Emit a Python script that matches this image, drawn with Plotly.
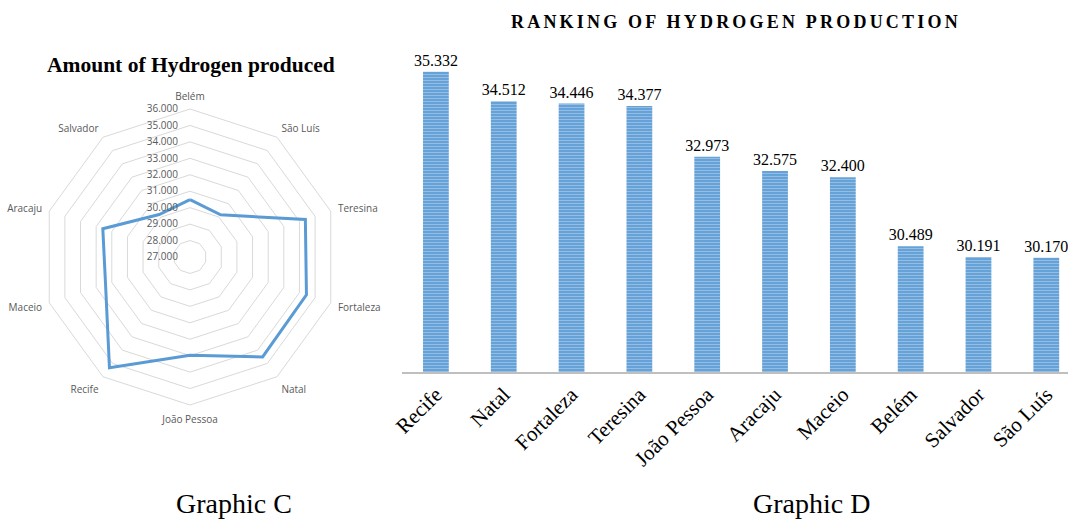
import plotly.graph_objects as go

# Radar data (order around the chart, clockwise from top)
radar_cities = ["Belém", "São Luís", "Teresina", "Fortaleza", "Natal",
                "João Pessoa", "Recife", "Maceio", "Aracaju", "Salvador"]
radar_values = [30.489, 30.170, 34.377, 34.446, 34.512,
                32.973, 35.332, 32.400, 32.575, 30.191]
radial_ticks = [27, 28, 29, 30, 31, 32, 33, 34, 35, 36]

# Ranking bar data
rank_cities = ["Recife", "Natal", "Fortaleza", "Teresina", "João Pessoa",
               "Aracaju", "Maceio", "Belém", "Salvador", "São Luís"]
rank_values = [35.332, 34.512, 34.446, 34.377, 32.973,
               32.575, 32.400, 30.489, 30.191, 30.170]

W, H = 1068, 520
fig = go.Figure()

fig.add_trace(go.Scatterpolar(
    r=radar_values + radar_values[:1],
    theta=radar_cities + radar_cities[:1],
    mode="lines",
    line=dict(color="#5b9bd5", width=3),
    showlegend=False,
))

fig.add_trace(go.Bar(
    x=rank_cities, y=rank_values,
    text=[f"{v:.3f}" for v in rank_values],
    textposition="outside",
    constraintext="none",
    textfont=dict(family="Liberation Serif", size=16, color="#000000"),
    cliponaxis=False,
    width=0.38,
    marker=dict(color="#5b9bd5",
                line=dict(width=0),
                pattern=dict(shape="-", fgcolor="#cfe0f3", size=3, solidity=0.45)),
    xaxis="x", yaxis="y",
    showlegend=False,
))

cx, cy, R = 190, 257, 148
fig.update_layout(
    width=W, height=H,
    margin=dict(l=0, r=0, t=0, b=0, autoexpand=False),
    paper_bgcolor="white", plot_bgcolor="white",
    polar=dict(
        domain=dict(x=[(cx - R) / W, (cx + R) / W], y=[1 - (cy + R) / H, 1 - (cy - R) / H]),
        bgcolor="white",
        gridshape="linear",
        radialaxis=dict(
            range=[27, 36], tickvals=radial_ticks,
            ticktext=[f"{v:.3f}" for v in radial_ticks],
            angle=90, tickangle=90, side="counterclockwise",
            showline=False, ticks="outside", ticklen=8, tickcolor="rgba(0,0,0,0)",
            gridcolor="#d9d9d9", gridwidth=1,
            tickfont=dict(family="Open Sans", size=10, color="#595959"),
        ),
        angularaxis=dict(
            direction="clockwise", rotation=90,
            showgrid=False, showline=True, linecolor="#d9d9d9", linewidth=1,
            ticks="outside", ticklen=5, tickcolor="rgba(0,0,0,0)",
            tickfont=dict(family="Open Sans", size=10, color="#595959"),
        ),
    ),
    xaxis=dict(
        domain=[402 / W, 1.0], range=[-0.5, 9.32], automargin=False,
        showline=True, linecolor="#bfbfbf", linewidth=2,
        tickangle=-45, ticks="",
        tickfont=dict(family="Liberation Serif", size=21, color="#000000"),
        showgrid=False, zeroline=False,
    ),
    yaxis=dict(
        domain=[1 - 372 / H, 1 - 40 / H], range=[27, 36.21], automargin=False,
        visible=False, showgrid=False, zeroline=False,
    ),
    annotations=[
        dict(text="<b>Amount of Hydrogen produced</b>", x=191 / W, y=1 - 65 / H,
             xref="paper", yref="paper", showarrow=False, xanchor="center", yanchor="middle",
             font=dict(family="Liberation Serif", size=21.5, color="#000000")),
        dict(text="<b><span style='letter-spacing:3.2px'>RANKING OF HYDROGEN PRODUCTION</span></b>",
             x=736 / W, y=1 - 22 / H,
             xref="paper", yref="paper", showarrow=False, xanchor="center", yanchor="middle",
             font=dict(family="Liberation Serif", size=18, color="#000000")),
        dict(text="Graphic C", x=234 / W, y=1 - 503 / H,
             xref="paper", yref="paper", showarrow=False, xanchor="center", yanchor="middle",
             font=dict(family="Liberation Serif", size=28, color="#000000")),
        dict(text="Graphic D", x=811 / W, y=1 - 503 / H,
             xref="paper", yref="paper", showarrow=False, xanchor="center", yanchor="middle",
             font=dict(family="Liberation Serif", size=28, color="#000000")),
    ],
)

fig.write_html(
    "out.html",
    config={"displayModeBar": False},
    post_script="document.body.style.margin='0';document.body.style.overflow='hidden';",
)
